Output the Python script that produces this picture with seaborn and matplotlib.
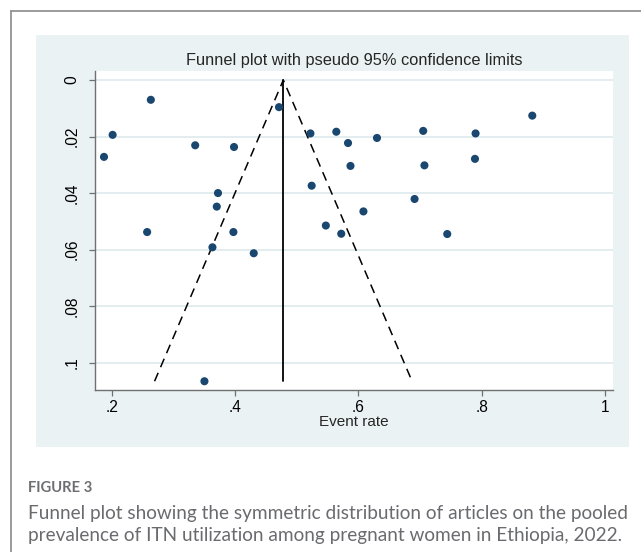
import numpy as np
import pandas as pd
import matplotlib
matplotlib.use("Agg")
import matplotlib.pyplot as plt
from matplotlib.patches import Rectangle
from matplotlib.lines import Line2D
import seaborn as sns

# Study-level prevalence (event rate) and its standard error
event_rate = [0.263, 0.201, 0.187, 0.335, 0.398, 0.471, 0.522, 0.564, 0.583,
              0.587, 0.372, 0.370, 0.524, 0.257, 0.397, 0.547, 0.572, 0.630,
              0.705, 0.790, 0.882, 0.707, 0.789, 0.691, 0.608, 0.744, 0.363,
              0.430, 0.350]
std_error = [0.0070, 0.0194, 0.0272, 0.0231, 0.0237, 0.0096, 0.0189, 0.0183,
             0.0223, 0.0304, 0.0400, 0.0448, 0.0374, 0.0538, 0.0538, 0.0515,
             0.0544, 0.0205, 0.0180, 0.0189, 0.0126, 0.0302, 0.0279, 0.0421,
             0.0465, 0.0545, 0.0592, 0.0613, 0.1066]
pooled_rate = 0.478

x_ticks = [0.2, 0.4, 0.6, 0.8, 1.0]
x_tick_labels = [".2", ".4", ".6", ".8", "1"]
y_ticks = [0, 0.02, 0.04, 0.06, 0.08, 0.1]
y_tick_labels = ["0", ".02", ".04", ".06", ".08", ".1"]

df = pd.DataFrame({"rate": event_rate, "se": std_error})

sns.set_theme(style="white")
plt.rcParams["font.family"] = ["Liberation Sans", "DejaVu Sans"]

W, H = 641, 552
fig = plt.figure(figsize=(W / 100, H / 100), dpi=100)
fig.patch.set_facecolor("white")

def fx(px):
    return px / W

def fy(py):
    return 1 - py / H

# outer frame of the figure block
fig.add_artist(Line2D([fx(11), fx(11)], [fy(10.5), 0], color="#8a8a8a", lw=1.2))
fig.add_artist(Line2D([fx(11), 1], [fy(10.5), fy(10.5)], color="#8a8a8a", lw=1.2))

# graph region background
fig.add_artist(Rectangle((fx(36), fy(446.7)), fx(629 - 36), (446.7 - 35) / H,
                         facecolor="#eaf2f3", edgecolor="none", zorder=0))

ax = fig.add_axes([fx(95), fy(390), fx(613 - 95), (390 - 70.7) / H])
ax.set_facecolor("white")

se_max = max(std_error)
z = 1.96
# pseudo 95% confidence limits
ax.plot([pooled_rate - z * se_max, pooled_rate, pooled_rate + z * se_max],
        [se_max, 0, se_max], color="black", lw=1.1, ls=(0, (6, 4)), zorder=2)
ax.plot([pooled_rate, pooled_rate], [0, se_max], color="black", lw=1.3, zorder=2)

sns.scatterplot(data=df, x="rate", y="se", ax=ax, color="#1a476f", s=34,
                edgecolor="none", zorder=3, legend=False)

ax.set_xlim(0.1724, 1.013)
ax.set_ylim(0.1097, -0.0033)
ax.set_xticks(x_ticks)
ax.set_xticklabels(x_tick_labels)
ax.set_yticks(y_ticks)
ax.set_yticklabels(y_tick_labels, rotation=90, va="center")
ax.grid(axis="y", color="#e3ecef", lw=1.4)
ax.set_axisbelow(True)

for side in ["top", "right"]:
    ax.spines[side].set_visible(False)
for side in ["left", "bottom"]:
    ax.spines[side].set_color("#707070")
    ax.spines[side].set_linewidth(1.0)
ax.tick_params(axis="both", which="major", length=4, width=0.9, color="#707070",
               labelsize=11.2, labelcolor="black", direction="out")
ax.tick_params(axis="y", pad=7)
ax.tick_params(axis="x", pad=3)
ax.xaxis.set_ticks_position("bottom")
ax.yaxis.set_ticks_position("left")

ax.set_xlabel("Event rate", fontsize=11, labelpad=0)
ax.set_ylabel("")
ax.set_title("Funnel plot with pseudo 95% confidence limits", fontsize=11.8, pad=4)

# caption
fig.text(fx(28), fy(488), "FIGURE 3", fontsize=10.6, color="#6d6e71",
         family="Lato", fontweight="bold", va="center", ha="left")
fig.text(fx(28), fy(513), "Funnel plot showing the symmetric distribution of articles on the pooled",
         fontsize=13.7, color="#6a6b6e", family="Lato", va="center", ha="left")
fig.text(fx(28), fy(536), "prevalence of ITN utilization among pregnant women in Ethiopia, 2022.",
         fontsize=13.7, color="#6a6b6e", family="Lato", va="center", ha="left")

fig.savefig("out.png", dpi=100)
